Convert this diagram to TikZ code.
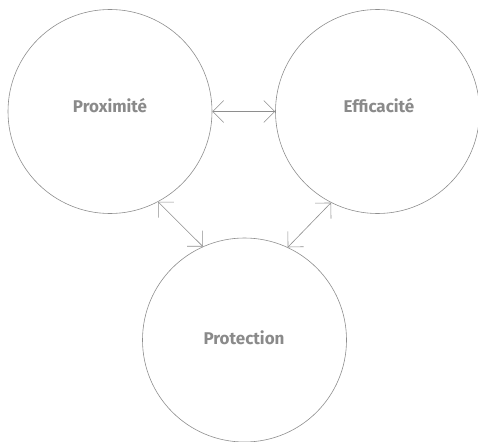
\documentclass[tikz,border=0pt]{standalone}
\usepackage{fontspec}
\setmainfont{Fira Sans}
\usetikzlibrary{arrows.meta}
\definecolor{linegray}{HTML}{8E8E8E}
\definecolor{textgray}{HTML}{8A8A8A}
\begin{document}
\begin{tikzpicture}[x=1pt,y=-1pt,
  bubble/.style={circle,draw=linegray,line width=0.6pt,minimum size=204pt,inner sep=0pt},
  lbl/.style={text=textgray,font=\fontsize{17}{19}\selectfont\bfseries,inner sep=0pt},
  link/.style={draw=linegray,line width=0.6pt,{Straight Barb[length=11pt,width=22pt]}-{Straight Barb[length=11pt,width=22pt]}}]
\useasboundingbox (0,0) rectangle (478,441);
\node[bubble] (prox) at (110,111.5) {};
\node[bubble] (eff) at (377.5,111.5) {};
\node[bubble] (prot) at (244.5,340) {};
\node[lbl] (tprox) at (110,106) {Proximité};
\node[lbl] (teff) at (379,106) {Efficacité};
\node[lbl] (tprot) at (244,338) {Protection};
\draw[link] (prox.east) -- (eff.west);
\draw[link] (prox.-62) -- (prot.114.6);
\draw[link] (eff.-117.2) -- (prot.65.4);
\end{tikzpicture}
\end{document}
